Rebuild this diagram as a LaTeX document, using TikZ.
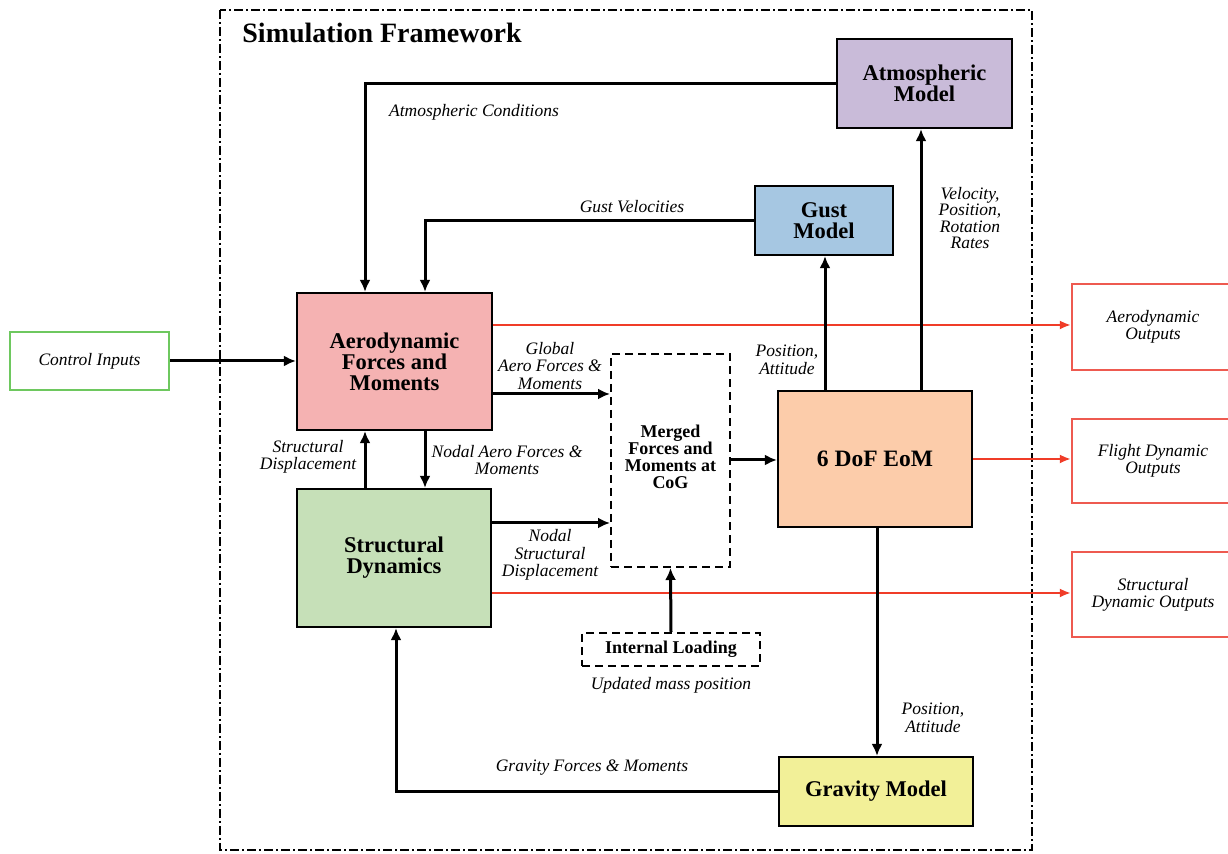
\documentclass[tikz,border=0pt]{standalone}
\usepackage{fontspec}
\setmainfont{Liberation Serif}
\usetikzlibrary{arrows.meta}
\definecolor{atmcol}{RGB}{201,187,217}
\definecolor{gustcol}{RGB}{166,199,226}
\definecolor{aerocol}{RGB}{245,178,178}
\definecolor{structcol}{RGB}{198,224,184}
\definecolor{eomcol}{RGB}{252,204,170}
\definecolor{gravcol}{RGB}{242,240,152}
\definecolor{redline}{RGB}{240,60,40}
\definecolor{outred}{RGB}{238,90,80}
\definecolor{ctrlgreen}{RGB}{110,200,95}
\tikzset{
  blockbox/.style={draw=black, line width=1.1pt, inner sep=0pt, align=center,
    font=\fontsize{11.25}{10.5}\selectfont\bfseries},
  dashbox/.style={draw=black, line width=1pt, dash pattern=on 4pt off 2.5pt, inner sep=0pt, align=center,
    font=\fontsize{9}{8.5}\selectfont\bfseries},
  outbox/.style={draw=outred, line width=1.1pt, inner sep=0pt, align=center,
    font=\fontsize{8.75}{8.5}\selectfont\itshape},
  lbl/.style={align=center, inner sep=0pt, font=\fontsize{8.75}{8.75}\selectfont\itshape},
  arr/.style={line width=1.5pt, -{Latex[length=6pt,width=5.5pt]}},
  redarr/.style={draw=redline, line width=1.3pt, -{Latex[length=5.5pt,width=4.5pt]}},
}
\begin{document}
\begin{tikzpicture}[x=0.5pt,y=-0.5pt]
\path[use as bounding box] (0,0) rectangle (1228,854);
\clip (0,0) rectangle (1228,854);
\fill[white] (0,0) rectangle (1228,854);

% frame
\draw[line width=1pt, dash pattern=on 4.5pt off 1.5pt on 1pt off 1.5pt] (220,10) rectangle (1032,850);
\node[anchor=west, inner sep=0pt, font=\fontsize{14}{14}\selectfont\bfseries] (title) at (242,33) {Simulation Framework};

% blocks
\node[blockbox, fill=atmcol, minimum width=87.5pt, minimum height=44.5pt] (atm) at (924.5,83.5) {Atmospheric\\Model};
\node[blockbox, fill=gustcol, minimum width=69pt, minimum height=34.5pt] (gust) at (824,220.5) {Gust\\Model};
\node[blockbox, fill=aerocol, minimum width=97.5pt, minimum height=68.5pt] (aero) at (394.5,361.5) {Aerodynamic\\Forces and\\Moments};
\node[blockbox, fill=structcol, minimum width=97pt, minimum height=69pt] (struct) at (394,558) {Structural\\Dynamics};
\node[dashbox, minimum width=59.5pt, minimum height=106.5pt] (merged) at (670.5,460.5) {};
\node[inner sep=0pt, align=center, font=\fontsize{9}{8.5}\selectfont\bfseries] (mergedtxt) at (670.5,457) {Merged\\Forces and\\Moments at\\CoG};
\node[blockbox, fill=eomcol, minimum width=97pt, minimum height=68pt, font=\fontsize{11.75}{12}\selectfont\bfseries] (eom) at (875,459) {6 DoF EoM};
\node[dashbox, minimum width=89pt, minimum height=16.5pt] (intload) at (671,649.5) {Internal Loading};
\node[blockbox, fill=gravcol, minimum width=97pt, minimum height=34.5pt] (grav) at (876,791.5) {Gravity Model};

% inputs / outputs
\node[draw=ctrlgreen, line width=1.1pt, inner sep=0pt, minimum width=79.5pt, minimum height=29pt,
  font=\fontsize{8.75}{8.5}\selectfont\itshape] (ctrl) at (89.5,361) {Control Inputs};
\node[outbox, minimum width=81pt, minimum height=43pt] (aout) at (1153,327) {Aerodynamic\\Outputs};
\node[outbox, minimum width=81pt, minimum height=42pt] (fout) at (1153,461) {Flight Dynamic\\Outputs};
\node[outbox, minimum width=81pt, minimum height=42.5pt] (sout) at (1153,594.5) {Structural\\Dynamic Outputs};

% connectors
\draw[arr] (atm.west) -| (365,0 |- aero.north);
\draw[arr] (gust.west) -| (425,0 |- aero.north);
\draw[redarr] (aero.east |- 0,325) -- (aout.west |- 0,325);
\draw[arr] (aero.east |- 0,394) -- (merged.west |- 0,394);
\draw[arr] (425,0 |- aero.south) -- (425,0 |- struct.north);
\draw[arr] (365,0 |- struct.north) -- (365,0 |- aero.south);
\draw[arr] (struct.east |- 0,523) -- (merged.west |- 0,523);
\draw[redarr] (struct.east |- 0,593) -- (sout.west |- 0,593);
\draw[arr] (merged.east |- 0,460) -- (eom.west |- 0,460);
\draw[arr] (intload.north) -- (merged.south);
\draw[arr] (825,0 |- eom.north) -- (825,0 |- gust.south);
\draw[arr] (921,0 |- eom.north) -- (921,0 |- atm.south);
\draw[redarr] (eom.east) -- (fout.west |- eom.east);
\draw[arr] (877,0 |- eom.south) -- (877,0 |- grav.north);
\draw[arr] (grav.west) -| (396,0 |- struct.south);
\draw[arr] (ctrl.east) -- (aero.west |- ctrl.east);

% labels
\node[lbl] (l1) at (474,112) {Atmospheric Conditions};
\node[lbl] (l2) at (632,207) {Gust Velocities};
\node[lbl] (l3) at (550,366) {Global\\Aero Forces \&\\Moments};
\node[lbl] (l4) at (507,460) {Nodal Aero Forces \&\\Moments};
\node[lbl] (l5) at (308,457) {Structural\\Displacement};
\node[lbl] (l6) at (550,555) {Nodal\\Structural\\Displacement};
\node[lbl] (l7) at (787,360) {Position,\\Attitude};
\node[lbl, font=\fontsize{8.75}{8.25}\selectfont\itshape] (l8) at (970,218) {Velocity,\\Position,\\Rotation\\Rates};
\node[lbl] (l9) at (933,718) {Position,\\Attitude};
\node[lbl] (l10) at (671,685) {Updated mass position};
\node[lbl] (l11) at (592,768) {Gravity Forces \& Moments};
\end{tikzpicture}
\end{document}
